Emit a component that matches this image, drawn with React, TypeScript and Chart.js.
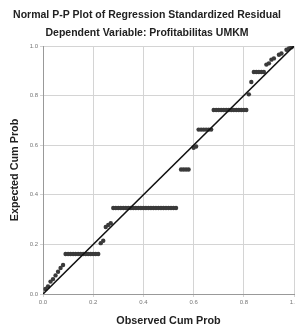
import React, { useEffect, useRef } from "react";
import { Chart, registerables } from "chart.js";

Chart.register(...registerables);

const titleText = "Normal P-P Plot of Regression Standardized Residual";
const subtitleText = "Dependent Variable: Profitabilitas UMKM";
const xAxisTitle = "Observed Cum Prob";
const yAxisTitle = "Expected Cum Prob";
const tickValues = [0, 0.2, 0.4, 0.6, 0.8, 1.0];

const observedCumProb = [
  0.01, 0.02, 0.03, 0.04, 0.05, 0.06, 0.07, 0.08,
  0.09, 0.10, 0.11, 0.12, 0.13, 0.14, 0.15, 0.16, 0.17, 0.18, 0.19, 0.20, 0.21, 0.22,
  0.23, 0.24, 0.25, 0.26, 0.27,
  0.28, 0.29, 0.30, 0.31, 0.32, 0.33, 0.34, 0.35, 0.36, 0.37, 0.38, 0.39, 0.40,
  0.41, 0.42, 0.43, 0.44, 0.45, 0.46, 0.47, 0.48, 0.49, 0.50, 0.51, 0.52, 0.53,
  0.55, 0.56, 0.57, 0.58,
  0.60, 0.61,
  0.62, 0.63, 0.64, 0.65, 0.66, 0.67,
  0.68, 0.69, 0.70, 0.71, 0.72, 0.73, 0.74, 0.75, 0.76, 0.77, 0.78, 0.79, 0.80, 0.81,
  0.82, 0.83,
  0.84, 0.85, 0.86, 0.87, 0.88,
  0.89, 0.90, 0.91, 0.92, 0.94, 0.95, 0.97, 0.98, 0.99, 1.00,
];

const expectedCumProb = [
  0.02, 0.03, 0.05, 0.06, 0.075, 0.09, 0.105, 0.117,
  0.161, 0.161, 0.161, 0.161, 0.161, 0.161, 0.161, 0.161, 0.161, 0.161, 0.161, 0.161, 0.161, 0.161,
  0.205, 0.215, 0.27, 0.278, 0.285,
  0.347, 0.347, 0.347, 0.347, 0.347, 0.347, 0.347, 0.347, 0.347, 0.347, 0.347, 0.347, 0.347,
  0.347, 0.347, 0.347, 0.347, 0.347, 0.347, 0.347, 0.347, 0.347, 0.347, 0.347, 0.347, 0.347,
  0.502, 0.502, 0.502, 0.502,
  0.59, 0.595,
  0.663, 0.663, 0.663, 0.663, 0.663, 0.663,
  0.742, 0.742, 0.742, 0.742, 0.742, 0.742, 0.742, 0.742, 0.742, 0.742, 0.742, 0.742, 0.742, 0.742,
  0.805, 0.855,
  0.895, 0.895, 0.895, 0.895, 0.895,
  0.925, 0.93, 0.945, 0.95, 0.965, 0.97, 0.985, 0.99, 0.995, 1.0,
];

const referenceLineX = [0, 1];
const referenceLineY = [0, 1];

const FONT = "'Liberation Sans', Arial, sans-serif";

export default function App() {
  const canvasRef = useRef<HTMLCanvasElement | null>(null);

  useEffect(() => {
    document.body.style.margin = "0";
    const canvas = canvasRef.current;
    if (!canvas) return;

    const fixScale = (w?: number, h?: number) => (scale: any) => {
      if (w !== undefined) scale.width = w;
      if (h !== undefined) scale.height = h;
      scale.paddingLeft = 0;
      scale.paddingRight = 0;
      scale.paddingTop = 0;
      scale.paddingBottom = 0;
    };

    const chart = new Chart(canvas, {
      type: "scatter",
      data: {
        datasets: [
          {
            label: "Reference",
            data: referenceLineX.map((x, i) => ({ x, y: referenceLineY[i] })),
            showLine: true,
            borderColor: "#111111",
            borderWidth: 1.6,
            pointRadius: 0,
            pointHoverRadius: 0,
            order: 0,
          },
          {
            label: "Residuals",
            data: observedCumProb.map((x, i) => ({ x, y: expectedCumProb[i] })),
            backgroundColor: "#3a3a3a",
            borderColor: "#3a3a3a",
            borderWidth: 0,
            pointRadius: 2.2,
            pointHoverRadius: 2.2,
            pointHoverBorderWidth: 0,
            order: 1,
          },
        ],
      },
      options: {
        responsive: false,
        animation: false,
        layout: { autoPadding: false, padding: { left: 0, right: 1, top: 0, bottom: 0 } },
        plugins: {
          legend: { display: false },
          tooltip: { enabled: false },
          title: {
            display: true,
            text: titleText,
            color: "#222",
            font: { family: FONT, size: 10.5, weight: "bold" },
            padding: { top: 9, bottom: 5.1 },
          },
          subtitle: {
            display: true,
            text: subtitleText,
            color: "#222",
            font: { family: FONT, size: 10.5, weight: "bold" },
            padding: { top: 0, bottom: 6.7 },
          },
        },
        scales: {
          x: {
            type: "linear",
            min: 0,
            max: 1,
            afterFit: fixScale(undefined, 37),
            afterBuildTicks: (scale: any) => {
              scale.ticks = tickValues.map((v) => ({ value: v }));
            },
            ticks: {
              color: "#777",
              font: { family: FONT, size: 6 },
              padding: 2,
              maxRotation: 0,
              callback: (v: any) => Number(v).toFixed(1),
            },
            grid: { color: "#d4d4d4", tickLength: 3, lineWidth: 1 },
            border: { color: "#999", width: 1 },
            title: {
              display: true,
              text: xAxisTitle,
              color: "#222",
              font: { family: FONT, size: 10.8, weight: "bold" },
              padding: { top: 0, bottom: 3 },
            },
          },
          y: {
            type: "linear",
            min: 0,
            max: 1,
            afterFit: fixScale(43, undefined),
            afterBuildTicks: (scale: any) => {
              scale.ticks = tickValues.map((v) => ({ value: v }));
            },
            ticks: {
              color: "#777",
              font: { family: FONT, size: 6 },
              padding: 2,
              callback: (v: any) => Number(v).toFixed(1),
            },
            grid: { color: "#d4d4d4", tickLength: 3, lineWidth: 1 },
            border: { color: "#999", width: 1 },
            title: {
              display: true,
              text: yAxisTitle,
              color: "#222",
              font: { family: FONT, size: 10.8, weight: "bold" },
              padding: { top: 9, bottom: 3 },
            },
          },
        },
      },
    } as any);

    return () => chart.destroy();
  }, []);

  return (
    <div style={{ width: 295, height: 331, background: "#fff" }}>
      <canvas ref={canvasRef} width={295} height={331} style={{ display: "block" }} />
    </div>
  );
}
